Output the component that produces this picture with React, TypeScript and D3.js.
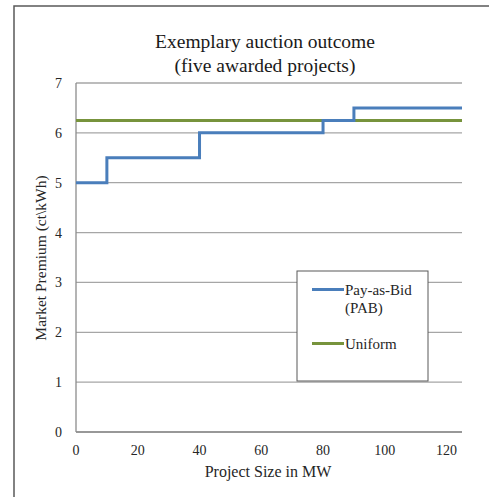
import React from "react";
import * as d3 from "d3";

// Pay-as-bid step curve: [capacity MW, premium ct/kWh] break points
const pabSteps: [number, number][] = [
  [0, 5],
  [10, 5.5],
  [40, 6],
  [80, 6.25],
  [90, 6.5],
  [125, 6.5],
];
// Uniform clearing price across the whole range
const uniformLine: [number, number][] = [
  [0, 6.25],
  [125, 6.25],
];
const xTicks = [0, 20, 40, 60, 80, 100, 120];
const yTicks = [0, 1, 2, 3, 4, 5, 6, 7];
const titleLines = ["Exemplary auction outcome", "(five awarded projects)"];
const legendItems = [
  { label: ["Pay-as-Bid", "(PAB)"], color: "#4a7ebb" },
  { label: ["Uniform"], color: "#77933c" },
];

const W = 489;
const H = 497;
const plot = { left: 76, right: 462, top: 83, bottom: 432 };
const font = "'Liberation Serif', 'Times New Roman', serif";

export default function App() {
  const x = d3.scaleLinear().domain([0, 125]).range([plot.left, plot.right]);
  const y = d3.scaleLinear().domain([0, 7]).range([plot.bottom, plot.top]);

  const stepLine = d3
    .line<[number, number]>()
    .x((d) => x(d[0]))
    .y((d) => y(d[1]))
    .curve(d3.curveStepAfter);
  const straight = d3
    .line<[number, number]>()
    .x((d) => x(d[0]))
    .y((d) => y(d[1]));

  const legend = { x: 297, y: 271, w: 131, h: 110 };

  return (
    <svg
      width={W}
      height={H}
      style={{ position: "absolute", left: 0, top: 0, background: "#fff" }}
      fontFamily={font}
    >
      {/* chart frame */}
      <rect x={14} y={6} width={500} height={520} fill="#fff" stroke="#595959" strokeWidth={1.5} />

      {/* title */}
      {titleLines.map((t, i) => (
        <text
          key={t}
          x={265}
          y={48 + i * 23.5}
          textAnchor="middle"
          fontSize={19.5}
          fill="#1a1a1a"
        >
          {t}
        </text>
      ))}

      {/* horizontal gridlines */}
      {yTicks.map((t) => (
        <line
          key={`g${t}`}
          x1={plot.left}
          x2={plot.right}
          y1={y(t)}
          y2={y(t)}
          stroke="#a6a6a6"
          strokeWidth={1.3}
        />
      ))}
      {/* axis lines */}
      <line x1={plot.left} x2={plot.left} y1={plot.top} y2={plot.bottom} stroke="#8c8c8c" strokeWidth={1.3} />
      <line x1={plot.left} x2={plot.right} y1={plot.bottom} y2={plot.bottom} stroke="#8c8c8c" strokeWidth={1.3} />

      {/* y tick labels */}
      {yTicks.map((t) => (
        <text key={`y${t}`} x={62} y={y(t) + 5} textAnchor="end" fontSize={14} fill="#262626">
          {t}
        </text>
      ))}
      {/* x tick labels */}
      {xTicks.map((t) => (
        <text key={`x${t}`} x={x(t)} y={455} textAnchor="middle" fontSize={14} fill="#262626">
          {t}
        </text>
      ))}

      {/* axis titles */}
      <text x={268} y={477} textAnchor="middle" fontSize={16} fill="#262626">
        Project Size in MW
      </text>
      <text
        transform={`translate(45.5, 258) rotate(-90)`}
        textAnchor="middle"
        fontSize={15.5}
        fill="#262626"
      >
        Market Premium (ct\kWh)
      </text>

      {/* series */}
      <path d={straight(uniformLine) ?? ""} fill="none" stroke="#77933c" strokeWidth={3} />
      <path d={stepLine(pabSteps) ?? ""} fill="none" stroke="#4a7ebb" strokeWidth={3} />

      {/* legend */}
      <rect
        x={legend.x}
        y={legend.y}
        width={legend.w}
        height={legend.h}
        fill="#fff"
        stroke="#595959"
        strokeWidth={1}
      />
      {legendItems.map((item, i) => {
        const cy = legend.y + 18.5 + i * 54;
        return (
          <g key={item.label[0]}>
            <line x1={312} x2={344} y1={cy} y2={cy} stroke={item.color} strokeWidth={3} />
            {item.label.map((l, j) => (
              <text key={l} x={345} y={cy + 5 + j * 18.5} fontSize={15} fill="#262626">
                {l}
              </text>
            ))}
          </g>
        );
      })}
    </svg>
  );
}
